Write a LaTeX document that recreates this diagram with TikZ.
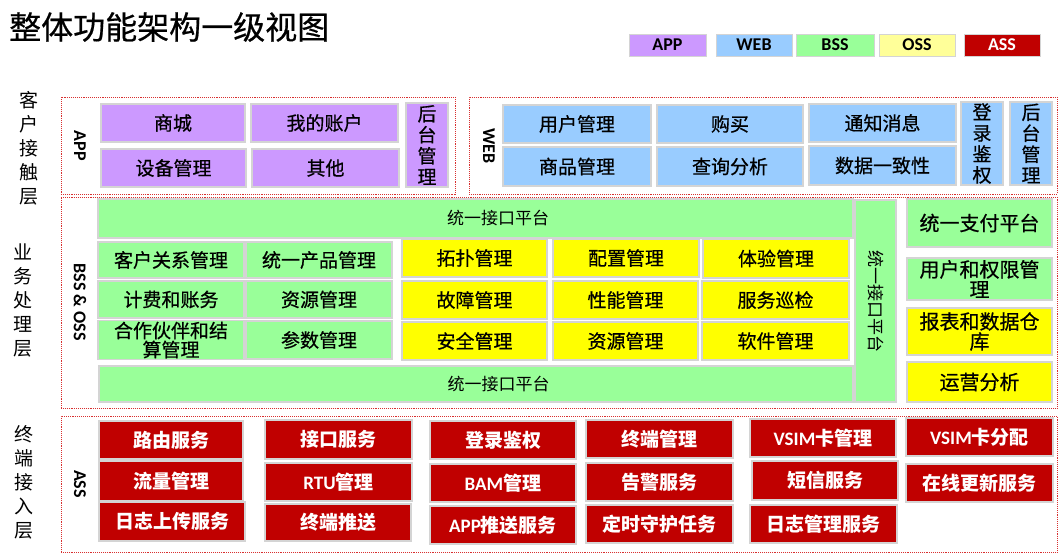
\documentclass[tikz,border=0pt]{standalone}
\usepackage{fontspec}
\usepackage{graphicx}
\setmainfont{Noto Sans CJK SC}
\newfontfamily\cjkm{Noto Sans CJK SC}[FakeBold=0.6]
\newfontfamily\lat{Carlito}
\definecolor{appc}{HTML}{CC99FF}
\definecolor{webc}{HTML}{99CCFF}
\definecolor{bssc}{HTML}{99FF99}
\definecolor{ossc}{HTML}{FFFF00}
\definecolor{ossl}{HTML}{FFFF99}
\definecolor{assc}{HTML}{C00000}
\definecolor{boxgray}{HTML}{D4D4D4}
\definecolor{framered}{HTML}{D83030}
\tikzset{
  x=1pt,y=-1pt,
  bx/.style={draw=boxgray,line width=1.3pt,inner sep=1pt,align=center,font=\cjkm\fontsize{19}{21}\selectfont},
  app/.style={bx,fill=appc},
  web/.style={bx,fill=webc},
  bss/.style={bx,fill=bssc},
  oss/.style={bx,fill=ossc},
  ass/.style={bx,fill=assc,text=white,font=\fontsize{19}{21}\selectfont\bfseries},
  bar/.style={bx,fill=bssc,font=\fontsize{17}{20}\selectfont},
  frame/.style={draw=framered,line width=0.9pt,densely dotted,inner sep=0pt},
  lay/.style={align=center,font=\fontsize{19}{24}\selectfont},
  tag/.style={rotate=-90,font=\lat\bfseries\fontsize{18}{20}\selectfont},
  leg/.style={draw=boxgray,line width=1pt,inner sep=0pt,font=\lat\bfseries\fontsize{18}{20}\selectfont}
}
\newcommand{\bk}[7]{\node[#2,minimum width={#5-#3},minimum height={#6-#4}] (#1) at ({(#3+#5)/2},{(#4+#6)/2}) {#7};}
\begin{document}
\begin{tikzpicture}
\fill[white] (0,0) rectangle (1062,555);
\useasboundingbox (0,0) rectangle (1062,555);

% title
\node[anchor=west,inner sep=0pt,font=\cjkm\fontsize{32}{35}\selectfont] (title) at (9,27) {整体功能架构一级视图};

% legend
\bk{lapp}{leg,fill=appc}{629}{34}{706}{56}{APP}
\bk{lweb}{leg,fill=webc}{716}{34}{792}{56}{WEB}
\bk{lbss}{leg,fill=bssc}{796}{34}{874}{56}{BSS}
\bk{loss}{leg,fill=ossl}{879}{34}{955}{56}{OSS}
\bk{lass}{leg,fill=assc,text=white}{964}{34}{1040}{56}{ASS}

% layer labels
\node[lay] (l1) at (29,148) {客\\户\\接\\触\\层};
\node[lay] (l2) at (23,300) {业\\务\\处\\理\\层};
\node[lay] (l3) at (24,482) {终\\端\\接\\入\\层};

% frames
\bk{fapp}{frame}{61}{97}{455}{194}{}
\bk{fweb}{frame}{469}{97}{1057}{194}{}
\bk{fbss}{frame}{61}{197}{1057}{408}{}
\bk{fass}{frame}{61}{416}{1057}{552}{}

% tags
\node[tag] (tapp) at (80,146) {APP};
\node[tag] (tweb) at (489,146) {WEB};
\node[tag] (tbss) at (80,302) {BSS \& OSS};
\node[tag] (tass) at (80,484) {ASS};

% APP
\bk{shang}{app}{101}{104}{245}{142}{商城}
\bk{zhanghu}{app}{251}{104}{398}{142}{我的账户}
\bk{shebei}{app}{101}{149}{246}{187}{设备管理}
\bk{qita}{app}{252}{149}{399}{187}{其他}
\bk{appht}{app}{406}{103}{448}{187}{后\\台\\管\\理}

% WEB
\bk{yhgl}{web}{503}{105}{651}{143}{用户管理}
\bk{gm}{web}{657}{105}{803}{143}{购买}
\bk{tzxx}{web}{809}{104}{956}{142}{通知消息}
\bk{spgl}{web}{503}{147}{651}{186}{商品管理}
\bk{cxfx}{web}{657}{147}{803}{186}{查询分析}
\bk{sjyz}{web}{809}{146}{956}{185}{数据一致性}
\bk{dljq}{web}{961}{102}{1003}{185}{登\\录\\鉴\\权}
\bk{webht}{web}{1010}{102}{1052}{185}{后\\台\\管\\理}

% BSS & OSS
\bk{tb}{bar}{98}{199}{853}{238}{\hspace*{45pt}统一接口平台}
\bk{khgx}{bss}{98}{242}{244}{278}{客户关系管理}
\bk{tycp}{bss}{246}{242}{392}{278}{统一产品管理}
\bk{jfzw}{bss}{98}{281}{244}{318}{计费和账务}
\bk{zygla}{bss}{246}{281}{392}{318}{资源管理}
\bk{hzhb}{bss}{98}{321}{244}{359}{合作伙伴和结\\[-2pt]算管理}
\bk{csgl}{bss}{246}{321}{392}{359}{参数管理}
\bk{bb}{bar}{99}{366}{853}{402}{\hspace*{45pt}统一接口平台}

\bk{tpgl}{oss}{402}{239}{547}{277}{拓扑管理}
\bk{pzgl}{oss}{553}{239}{699}{277}{配置管理}
\bk{tygl}{oss}{703}{239}{849}{278}{体验管理}
\bk{gzgl}{oss}{402}{281}{547}{319}{故障管理}
\bk{xngl}{oss}{553}{281}{698}{319}{性能管理}
\bk{fwxj}{oss}{702}{281}{849}{319}{服务巡检}
\bk{aqgl}{oss}{402}{322}{547}{360}{安全管理}
\bk{zyglb}{oss}{553}{322}{698}{360}{资源管理}
\bk{rjgl}{oss}{702}{322}{849}{360}{软件管理}

\bk{vb}{bar}{855}{200}{896}{402}{\rotatebox{-90}{统一接口平台}}

\bk{zfpt}{bss,font=\cjkm\fontsize{20}{22}\selectfont}{907}{199}{1052}{247}{统一支付平台}
\bk{qxgl}{bss,font=\cjkm\fontsize{20}{22}\selectfont}{907}{258}{1052}{300}{用户和权限管\\[-2pt]理}
\bk{bbsj}{oss,font=\cjkm\fontsize{20}{22}\selectfont}{907}{308}{1052}{355}{报表和数据仓\\[-2pt]库}
\bk{yyfx}{oss,font=\cjkm\fontsize{20}{22}\selectfont}{907}{362}{1052}{402}{运营分析}

% ASS
\bk{lyfw}{ass}{99}{421}{243}{459}{路由服务}
\bk{llgl}{ass}{99}{461}{243}{501}{流量管理}
\bk{rzsc}{ass}{99}{502}{245}{541}{日志上传服务}
\bk{jkfw}{ass}{265}{420}{412}{459}{接口服务}
\bk{rtu}{ass}{265}{463}{412}{501}{{\lat\bfseries RTU}管理}
\bk{zdts}{ass}{265}{504}{411}{541}{终端推送}
\bk{dljqb}{ass}{430}{421}{576}{459}{登录鉴权}
\bk{bam}{ass}{430}{464}{576}{502}{{\lat\bfseries BAM}管理}
\bk{appts}{ass}{430}{506}{576}{544}{{\lat\bfseries APP}推送服务}
\bk{zdgl}{ass}{586}{420}{733}{458}{终端管理}
\bk{gjfw}{ass}{586}{463}{733}{501}{告警服务}
\bk{dssh}{ass}{586}{505}{733}{543}{定时守护任务}
\bk{vsima}{ass}{750}{419}{896}{457}{{\lat\bfseries VSIM}卡管理}
\bk{dxfw}{ass}{752}{461}{898}{500}{短信服务}
\bk{rzgl}{ass}{750}{505}{897}{543}{日志管理服务}
\bk{vsimb}{ass}{906}{418}{1053}{456}{{\lat\bfseries VSIM}卡分配}
\bk{zxgx}{ass}{906}{464}{1053}{502}{在线更新服务}
\end{tikzpicture}
\end{document}
